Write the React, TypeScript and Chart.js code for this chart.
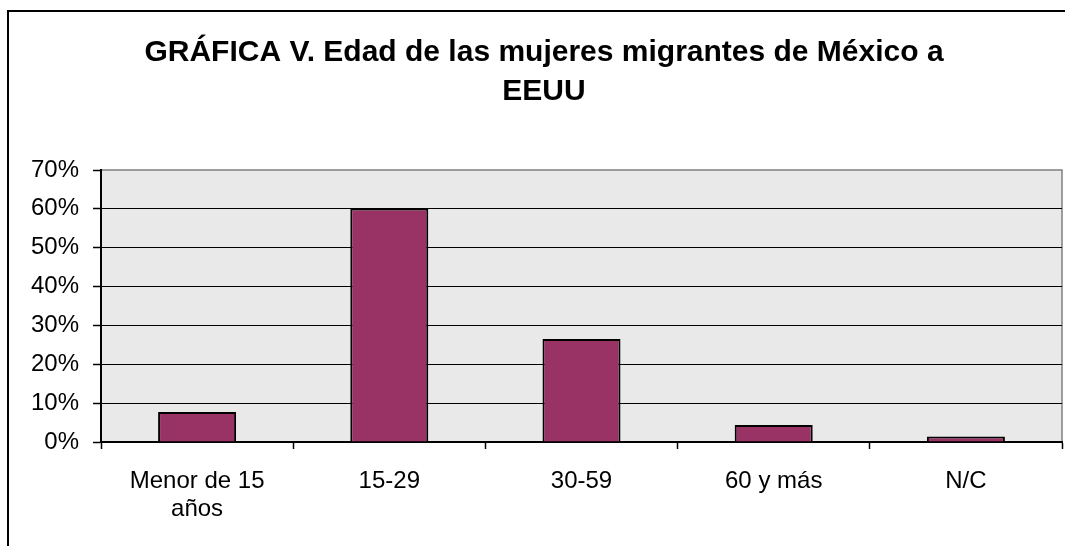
import React, { useEffect, useRef } from "react";
import { Chart, registerables } from "chart.js";

Chart.register(...registerables);

const categories: (string | string[])[] = [["Menor de 15", "años"], "15-29", "30-59", "60 y más", "N/C"];
const values: number[] = [7.7, 60.1, 26.5, 4.4, 1.4];
const titleLines: string[] = ["GRÁFICA V. Edad de las mujeres migrantes de México a", "EEUU"];
const yMax = 70;
const yStep = 10;

const FONT = "'Liberation Sans', Arial, sans-serif";

const framePlugin = {
  id: "framePlugin",
  beforeDraw(chart: any) {
    const { ctx, chartArea } = chart;
    const { left, top, right, bottom } = chartArea;
    ctx.save();
    ctx.fillStyle = "#e9e9e9";
    ctx.fillRect(left, top, right - left, bottom - top);
    ctx.strokeStyle = "#808080";
    ctx.lineWidth = 1.5;
    ctx.beginPath();
    ctx.moveTo(left, top);
    ctx.lineTo(right, top);
    ctx.lineTo(right, bottom);
    ctx.stroke();
    ctx.restore();
  },
  afterDraw(chart: any) {
    const { ctx } = chart;
    ctx.save();
    ctx.strokeStyle = "#000";
    ctx.lineWidth = 2;
    ctx.strokeRect(8, 11, 3000, 3000);
    ctx.fillStyle = "#000";
    ctx.font = `bold 30px ${FONT}`;
    ctx.textAlign = "center";
    ctx.textBaseline = "alphabetic";
    ctx.fillText(titleLines[0], 544, 61);
    ctx.fillText(titleLines[1], 544, 100);
    ctx.restore();
  },
};

export default function App() {
  const ref = useRef<HTMLCanvasElement | null>(null);
  useEffect(() => {
    if (!ref.current) return;
    const chart = new Chart(ref.current, {
      type: "bar",
      data: {
        labels: categories as any,
        datasets: [
          {
            data: values,
            backgroundColor: "#993366",
            borderColor: "#000",
            borderWidth: 2,
            categoryPercentage: 1,
            barPercentage: 0.406,
          },
        ],
      },
      options: {
        animation: false,
        responsive: false,
        maintainAspectRatio: false,
        layout: { padding: { top: 170, left: 0, right: 3, bottom: 0 } },
        plugins: {
          legend: { display: false },
          tooltip: { enabled: false },
          title: { display: false },
        },
        scales: {
          x: {
            afterFit: (s: any) => {
              s.height = 104;
            },
            grid: {
              display: true,
              drawOnChartArea: false,
              offset: true,
              tickLength: 7,
              tickColor: "#000",
              tickWidth: 1.5,
            },
            border: { display: true, color: "#000", width: 2 },
            ticks: {
              color: "#000",
              font: { family: FONT, size: 24, lineHeight: 1.17 },
              padding: 18,
              maxRotation: 0,
              autoSkip: false,
            },
          },
          y: {
            min: 0,
            max: yMax,
            afterFit: (s: any) => {
              s.width = 101;
            },
            grid: {
              color: (c: any) => (c.tick && c.tick.value === yMax ? "rgba(0,0,0,0)" : "#000"),
              lineWidth: 1,
              tickLength: 8,
              tickColor: "#000",
              tickWidth: 1.5,
            },
            border: { display: true, color: "#000", width: 2 },
            ticks: {
              stepSize: yStep,
              color: "#000",
              font: { family: FONT, size: 24 },
              padding: 14,
              callback: (v: any) => `${v}%`,
            },
          },
        },
      },
      plugins: [framePlugin],
    });
    return () => chart.destroy();
  }, []);
  return (
    <div style={{ position: "fixed", left: 0, top: 0, width: 1065, height: 546, background: "#fff" }}>
      <canvas ref={ref} width={1065} height={546} style={{ display: "block" }} />
    </div>
  );
}
